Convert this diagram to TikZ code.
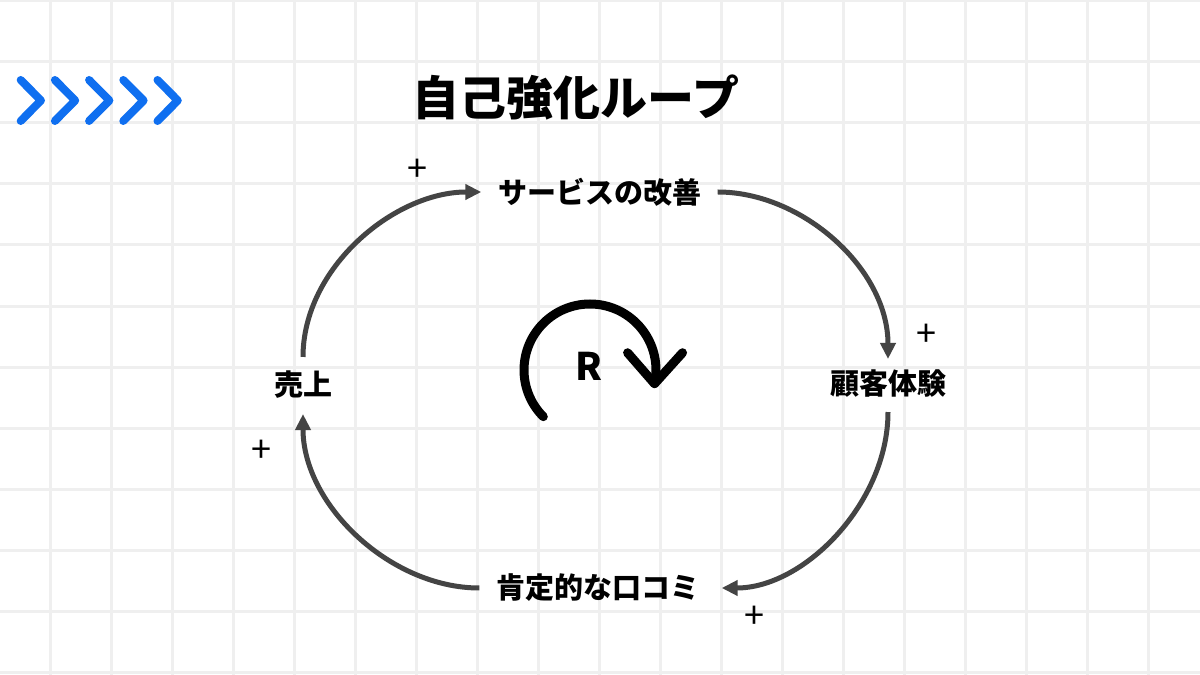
\documentclass[tikz,border=0pt]{standalone}
\usepackage{fontspec}
\newfontfamily\cjk{Noto Sans CJK JP}
\usetikzlibrary{arrows.meta}
\definecolor{gridc}{HTML}{EFEFEF}
\definecolor{chev}{HTML}{0F6FF0}
\definecolor{loopc}{HTML}{444444}
\begin{document}
\begin{tikzpicture}[x=1pt,y=1pt,
  lbl/.style={font=\cjk\bfseries\fontsize{29}{31}\selectfont, inner sep=0pt, text=black},
  pl/.style={font=\cjk\fontsize{36}{38}\selectfont, inner sep=0pt},
  flow/.style={draw=loopc, line width=5pt, -{Triangle[length=16pt,width=15pt]}},
  chevron/.style={draw=chev, line width=8pt, line cap=round, line join=round},
  gridline/.style={draw=gridc, line width=3pt},
  rloop/.style={draw=black, line width=9pt, line cap=round, line join=round}]
\useasboundingbox (0,0) rectangle (1200,675);
\fill[white] (0,0) rectangle (1200,675);
\foreach \i in {0,...,18} \draw[gridline] ({50.7+61*\i},0) -- ({50.7+61*\i},675);
\foreach \j in {0,...,11} \draw[gridline] (0,{675-0.6-61.1*\j}) -- (1200,{675-0.6-61.1*\j});
% chevrons
\foreach \k in {0,...,4} \draw[chevron] ({20.7+34.2*\k},595) -- ({41+34.2*\k},574.5) -- ({20.7+34.2*\k},554);
% title
\node[font=\cjk\bfseries\fontsize{47}{51}\selectfont, inner sep=0pt] (title) at (576,577.5) {自己強化ループ};
% labels
\node[lbl] (svc) at (600,483) {サービスの改善};
\node[lbl] (cx) at (888,291) {顧客体験};
\node[lbl] (uri) at (303,290) {売上};
\node[lbl] (kuchi) at (598,87) {肯定的な口コミ};
% loop connectors
\draw[flow, shorten <=14pt, shorten >=17pt] (uri.north) to[out=90,in=180] (svc.west);
\draw[flow, shorten <=16pt, shorten >=11pt] (svc.east) to[out=0,in=90] (cx.north);
\draw[flow, shorten <=14pt, shorten >=22pt] (cx.south) to[out=-90,in=0] (kuchi.east);
\draw[flow, shorten <=17pt, shorten >=15pt] (kuchi.west) to[out=180,in=-90] (uri.south);
% polarity signs
\node[pl] (p1) at (417,504.5) {+};
\node[pl] (p2) at (926,340) {+};
\node[pl] (p3) at (261.5,224) {+};
\node[pl] (p4) at (754,58) {+};
% R loop marker
\coordinate (rc) at (590,305);
\node[font=\cjk\bfseries\fontsize{38}{40}\selectfont, inner sep=0pt] (r) at (589,309) {R};
\draw[rloop] (rc) ++(225:66) arc[start angle=225, end angle=-12, radius=66] coordinate (rtip);
\draw[rloop] (rtip) ++(-27,31) -- (rtip) -- ++(28,31);
\end{tikzpicture}
\end{document}
